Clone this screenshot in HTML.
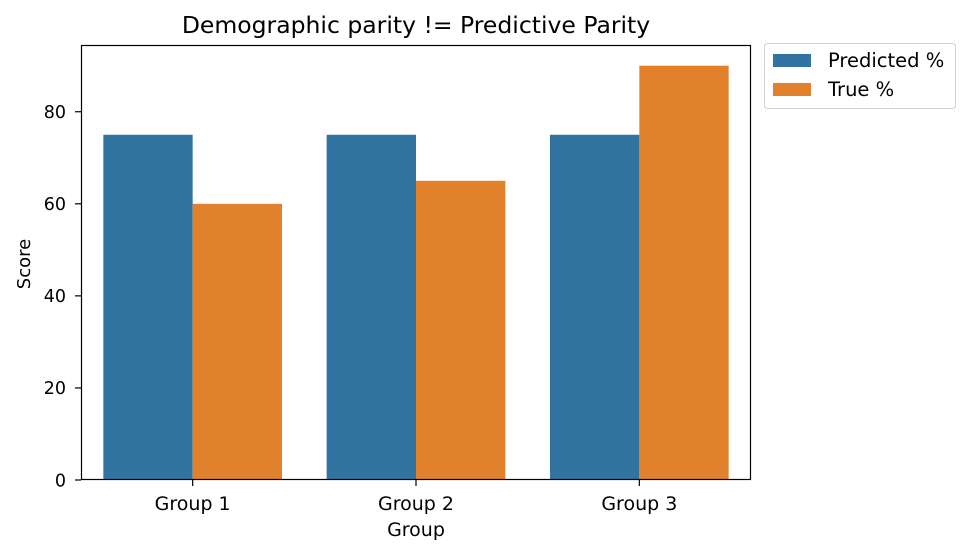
<!DOCTYPE html>
<html><head><meta charset="utf-8"><style>
body{margin:0;background:#fff;}
svg text{font-family:"DejaVu Sans","Liberation Sans",sans-serif;fill:#000;}
</style></head><body>
<svg width="969" height="554" viewBox="0 0 969 554">
<g id="bars"></g>
<g id="axes"></g>
<text x="416" y="33" font-size="23.5" text-anchor="middle">Demographic parity != Predictive Parity</text>
<text x="416" y="536" font-size="19" text-anchor="middle">Group</text>
<text transform="translate(30,264) rotate(-90)" font-size="18" text-anchor="middle">Score</text>
<g>
<rect x="764.5" y="43.5" width="191" height="65" rx="3" fill="#fff" stroke="#d0d0d0"/>
<rect x="773" y="54" width="38" height="13" fill="#3274a1"/>
<text x="828" y="67" font-size="19.5">Predicted %</text>
<rect x="773" y="83" width="38" height="13" fill="#e1812c"/>
<text x="828" y="96" font-size="19.5">True %</text>
</g>
</svg>
<script>
const categories=["Group 1","Group 2","Group 3"];
const predicted=[75,75,75];
const truePct=[60,65,90];
const yTicks=[0,20,40,60,80];
const L=81,R=751,T=45,B=480,yMax=94.5;
const ns="http://www.w3.org/2000/svg";
const y=v=>B-(v/yMax)*(B-T);
const bw=(R-L)/categories.length;
const bars=document.getElementById('bars'),axes=document.getElementById('axes');
function mk(tag,attrs,parent){const e=document.createElementNS(ns,tag);for(const k in attrs)e.setAttribute(k,attrs[k]);parent.appendChild(e);return e;}
categories.forEach((c,i)=>{
  const cx=L+bw*(i+0.5),w=bw*0.4;
  const r1=mk('rect',{x:cx-w,y:y(predicted[i]),width:w,height:B-y(predicted[i]),fill:'#3274a1'},bars);
  
  
  const r2=mk('rect',{x:cx,y:y(truePct[i]),width:w,height:B-y(truePct[i]),fill:'#e1812c'},bars);
  
  
  const t=mk('line',{x1:cx,x2:cx,y1:B,y2:B+6,stroke:'#000','stroke-width':1.2},axes);
  
  
  const l=mk('text',{x:cx,y:B+30,'font-size':19,'text-anchor':'middle'},axes);l.textContent=c;
  
  
});
yTicks.forEach(v=>{
  const t=mk('line',{x1:L-6,x2:L,y1:y(v),y2:y(v),stroke:'#000','stroke-width':1.2},axes);
  
  
  const l=mk('text',{x:L-15,y:y(v)+6.3,'font-size':17.5,'text-anchor':'end'},axes);l.textContent=v;
  
  
});
const f=mk('rect',{x:L+0.5,y:T+0.5,width:R-L-1,height:B-T-1,fill:'none',stroke:'#000','stroke-width':1.2},axes);


</script>
</body></html>
